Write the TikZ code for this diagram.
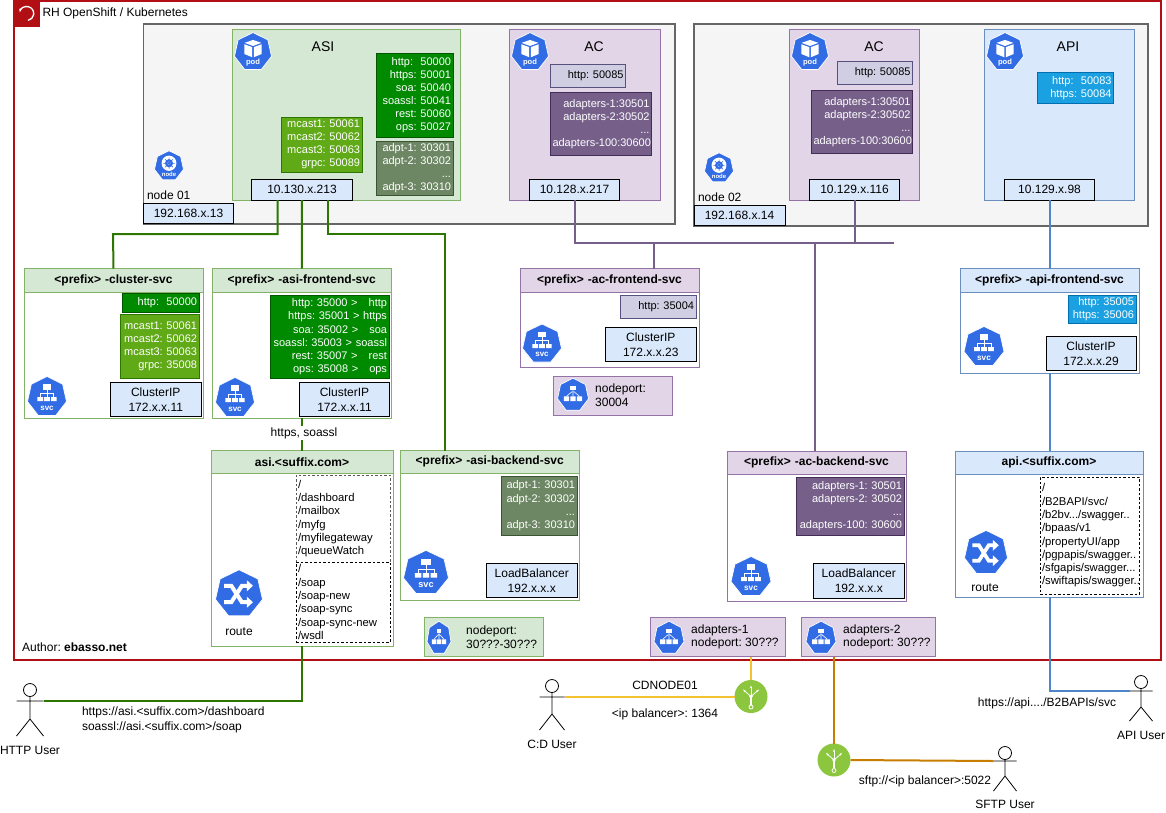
\documentclass[tikz,border=0pt]{standalone}
\usepackage{fontspec}
\setmainfont{Liberation Sans}
\usetikzlibrary{arrows.meta,calc}
\hyphenpenalty=10000 \exhyphenpenalty=10000
\frenchspacing
\definecolor{kblue}{HTML}{326CE5}
\definecolor{redb}{HTML}{B20F14}
\definecolor{gfill}{HTML}{D5E8D4}\definecolor{gstroke}{HTML}{82B366}
\definecolor{pfill}{HTML}{E1D5E7}\definecolor{pstroke}{HTML}{9673A6}
\definecolor{bfill}{HTML}{DAE8FC}\definecolor{bstroke}{HTML}{6C8EBF}
\definecolor{dgreen}{HTML}{008A00}\definecolor{dgreens}{HTML}{005700}
\definecolor{lgreen}{HTML}{60A917}\definecolor{lgreens}{HTML}{2D7600}
\definecolor{ogreen}{HTML}{6D8764}\definecolor{ogreens}{HTML}{3A5431}
\definecolor{vio}{HTML}{76608A}\definecolor{vios}{HTML}{432D57}
\definecolor{lav}{HTML}{D0CEE2}\definecolor{lavs}{HTML}{56517E}
\definecolor{cyanb}{HTML}{1BA1E2}\definecolor{cyans}{HTML}{006EAF}
\definecolor{greenln}{HTML}{2D7600}
\definecolor{apiblue}{HTML}{4F86C8}
\definecolor{yelln}{HTML}{F2C230}
\definecolor{oraln}{HTML}{C77E00}
\definecolor{balg}{HTML}{8CC63F}
\tikzset{
  fsm/.style={font=\fontsize{11}{13.1}\selectfont},
  fmd/.style={font=\fontsize{12}{15}\selectfont},
  rtx/.style={fsm,align=right},
  dgblock/.style={rtx,fill=dgreen,draw=dgreens,text=white},
  lgblock/.style={rtx,fill=lgreen,draw=lgreens,text=white},
  ogblock/.style={rtx,fill=ogreen,draw=ogreens,text=white},
  vblock/.style={rtx,fill=vio,draw=vios,text=white},
  lblock/.style={rtx,fill=lav,draw=lavs,text=black},
  cblock/.style={rtx,fill=cyanb,draw=cyans,text=white},
  ipbox/.style={fmd,align=center,fill=bfill,draw=black},
  pathbox/.style={font=\fontsize{11.3}{13.3}\selectfont,align=left,dash pattern=on 2.5pt off 2pt,draw=black},
  plain/.style={fmd,inner sep=0pt,outer sep=0pt},
  glnk/.style={draw=greenln,line width=2pt},
  plnk/.style={draw=vio,line width=2pt},
  apilnk/.style={draw=apiblue,line width=2pt},
  ylnk/.style={draw=yelln,line width=2pt},
  olnk/.style={draw=oraln,line width=2pt},
  actorln/.style={draw=black,line width=.8pt},
}
% box from corners: [opts]{name}{x1}{y1}{x2}{y2}{text}
\newcommand{\bx}[7][]{%
  \pgfmathsetmacro{\bw}{#5-#3}\pgfmathsetmacro{\bh}{#6-#4}%
  \pgfmathsetmacro{\bcx}{(#3+#5)/2}\pgfmathsetmacro{\bcy}{(#4+#6)/2}%
  \pgfmathsetmacro{\btw}{\bw-4}%
  \node[draw,outer sep=0pt,inner xsep=2pt,inner ysep=0pt,minimum width=\bw pt,minimum height=\bh pt,text width=\btw pt,#1] (#2) at (\bcx,\bcy) {#7};}
% swimlane: {name}{x1}{y1}{x2}{y2}{yhead}{fill}{stroke}{title}
\newcommand{\lane}[9]{%
  \bx[draw=#8,line width=.9pt,fill=white]{#1}{#2}{#3}{#4}{#5}{}%
  \bx[draw=#8,line width=.9pt,fill=#7,align=center,font=\fontsize{12}{14}\selectfont\bfseries]{#1-h}{#2}{#3}{#4}{#6}{#9}}
% glyphs, in unit coordinates
\newcommand{\icopod}{%
  \fill[white] (0,.62)--(-.44,.47)--(0,.31)--(.44,.47)--cycle;
  \fill[white] (-.46,.40)--(-.04,.25)--(-.04,-.27)--(-.46,-.10)--cycle;
  \fill[white] (.46,.40)--(.04,.25)--(.04,-.27)--(.46,-.10)--cycle;
  \node[white,font=\fontsize{\ifs}{\ifs}\selectfont\bfseries,inner sep=0pt] (\iname-t) at (0,-.52) {pod};}
\newcommand{\iconode}{%
  \fill[white] (0,.18) circle [radius=.5];
  \fill[kblue] (0,.18) circle [radius=.27];
  \fill[white] (0,.18) circle [radius=.13];
  \draw[kblue,line width=.5pt] (0,.55)--(0,-.2) (-.38,.18)--(.38,.18) (-.27,.45)--(.27,-.09) (-.27,-.09)--(.27,.45);
  \node[white,font=\fontsize{\ifs}{\ifs}\selectfont\bfseries,inner sep=0pt] (\iname-t) at (0,-.58) {node};}
\newcommand{\icosvc}{%
  \fill[white] (-.2,.61) rectangle (.2,.34);
  \fill[white] (-.48,0) rectangle (-.2,-.2) (-.14,0) rectangle (.14,-.2) (.2,0) rectangle (.48,-.2);
  \draw[white,line width=.7pt] (0,.34)--(0,0) (-.34,0)--(-.34,.17)--(.34,.17)--(.34,0);
  \node[white,font=\fontsize{\ifs}{\ifs}\selectfont\bfseries,inner sep=0pt] (\iname-t) at (0,-.54) {svc};}
\newcommand{\iconp}{%
  \fill[white] (-.2,.55) rectangle (.2,.28);
  \fill[white] (-.58,-.08) rectangle (-.24,-.36) (-.17,-.08) rectangle (.17,-.36) (.24,-.08) rectangle (.58,-.36);
  \draw[white,line width=.6pt] (0,.28)--(0,-.08) (-.06,.2)--(-.41,-.08) (.06,.2)--(.41,-.08);}
\newcommand{\icoroute}{%
  \draw[white,line width=\ilw pt,-{Triangle[length=6pt,width=10.5pt]}] (-.62,.34)--(-.32,.34)--(.12,-.34)--(.58,-.34);
  \draw[white,line width=\ilw pt,-{Triangle[length=6pt,width=10.5pt]}] (-.62,-.34)--(-.32,-.34)--(.12,.34)--(.58,.34);}
% {name}{cx}{cy}{W}{H}{kind}
\newcommand{\kicon}[6]{%
  \pgfmathsetmacro{\ifs}{#4*.205}\pgfmathsetmacro{\ilw}{#4*.085}\pgfmathsetmacro{\ihx}{#4/1.95}\pgfmathsetmacro{\ihy}{#5/1.9}%
  \def\iname{#1}%
  \begin{scope}[shift={(#2,#3)},x=\ihx pt,y=\ihy pt]
    \fill[kblue,draw=white,line width=.7pt] (90:1)--(141.43:1)--(192.86:1)--(244.29:1)--(295.71:1)--(347.14:1)--(38.57:1)--cycle;
    \csname ico#6\endcsname
  \end{scope}}
% {name}{x}{yhead}{armY}{half}{hipY}{footY}
\newcommand{\actor}[7]{%
  \node[circle,draw=black,line width=.8pt,minimum size=13pt,inner sep=0pt,outer sep=0pt] (#1) at (#2,#3) {};
  \coordinate (#1-l) at (#2-#5,#4); \coordinate (#1-r) at (#2+#5,#4);
  \coordinate (#1-h) at (#2,#6); \coordinate (#1-fl) at (#2-#5,#7); \coordinate (#1-fr) at (#2+#5,#7);
  \draw[actorln] (#1.south)--(#1-h) (#1-l)--(#1-r) (#1-fl)--(#1-h)--(#1-fr);}
\newcommand{\balancer}[3]{%
  \node[circle,fill=balg,minimum size=33pt,inner sep=0pt,outer sep=0pt] (#1) at (#2,#3) {};
  \draw[white,line width=.8pt,-{Stealth[length=3pt]}] (#1.center)--++(0,-11);
  \draw[white,line width=.8pt,-{Stealth[length=3pt]}] (#1.center)--++(-8,-7);
  \draw[white,line width=.8pt,-{Stealth[length=3pt]}] (#1.center)--++(8,-7);
  \draw[white,line width=1.2pt] (#1.center)--++(0,8);
  \draw[white,line width=.8pt] ([yshift=-10.5pt]#1.center) circle [radius=2];
  \fill[white] (#1.center) circle [radius=1.8];}
\begin{document}
\begin{tikzpicture}[x=1pt,y=-1pt]
\useasboundingbox (0,0) rectangle (1166,812);
\fill[white] (0,0) rectangle (1166,812);
% outer
\bx[draw=redb,line width=1.8pt,fill=white]{outer}{14}{1}{1161}{660}{}
\bx[draw=redb,fill=redb,line width=.5pt]{corner}{14}{1}{39.5}{26}{}
\draw[white,line width=1.3pt,{Stealth[length=3.5pt]}-] ([shift={(-170:7)}]corner.center) arc[start angle=-170,end angle=80,radius=7];
\node[plain,anchor=west] (title) at (42.5,13) {RH OpenShift / Kubernetes};
\node[anchor=west,inner sep=0pt,font=\fontsize{12}{14}\selectfont] (author) at (22,647) {Author: \textbf{ebasso.net}};
% node boxes
\bx[draw=black!60,fill=black!4,line width=1.8pt]{node1}{143.5}{24}{675}{224}{}
\bx[draw=black!60,fill=black!4,line width=1.8pt]{node2}{694}{24}{1148}{226}{}
% ASI pod
\bx[draw=gstroke,fill=gfill]{asipod}{232.5}{29}{460}{200}{}
\kicon{ic1}{253}{52}{37}{37}{pod}
\node[inner sep=0pt,font=\fontsize{14}{16}\selectfont] (asit) at (323,47) {ASI};
\bx[dgblock]{asia}{376.5}{53}{453}{137}{http:~~50000\\https:~50001\\soa:~50040\\soassl:~50041\\rest:~50060\\ops:~50027}
\bx[ogblock]{asib}{376.5}{141}{453}{195}{adpt-1:~30301\\adpt-2:~30302\\...\\adpt-3:~30310}
\bx[lgblock]{asic}{281.5}{117}{362}{172}{mcast1:~50061\\mcast2:~50062\\mcast3:~50063\\grpc:~50089}
\bx[ipbox]{asiip}{251.5}{179.5}{352.5}{200}{10.130.x.213}
\kicon{ic2}{169}{166}{29}{29}{node}
\node[plain,anchor=west] (n1t) at (147,195) {node 01};
\bx[ipbox]{n1ip}{143.5}{203}{233.5}{223}{192.168.x.13}
% AC pod 1
\bx[draw=pstroke,fill=pfill]{acpod1}{509.5}{29}{660}{200}{}
\kicon{ic3}{530}{52}{37}{37}{pod}
\node[inner sep=0pt,font=\fontsize{14}{16}\selectfont] (ac1t) at (594,47) {AC};
\bx[lblock]{ac1a}{550.5}{64.5}{625.5}{87}{http:~50085}
\bx[vblock]{ac1b}{550.5}{92.5}{651.5}{155.5}{adapters-1:30501\\adapters-2:30502\\...\\adapters-100:30600}
\bx[ipbox]{ac1ip}{529.5}{179.5}{619.5}{200}{10.128.x.217}
% AC pod 2
\bx[draw=pstroke,fill=pfill]{acpod2}{789.5}{29}{919.5}{200}{}
\kicon{ic4}{810}{52}{37}{37}{pod}
\node[inner sep=0pt,font=\fontsize{14}{16}\selectfont] (ac2t) at (874,47) {AC};
\bx[lblock]{ac2a}{837.5}{61.5}{912.5}{84}{http:~50085}
\bx[vblock]{ac2b}{811.5}{90.5}{912.5}{153.5}{adapters-1:30501\\adapters-2:30502\\...\\adapters-100:30600}
\bx[ipbox]{ac2ip}{809.5}{179.5}{899.5}{200}{10.129.x.116}
\kicon{ic5}{719}{168}{29}{29}{node}
\node[plain,anchor=west] (n2t) at (698,197) {node 02};
\bx[ipbox]{n2ip}{694}{205}{785}{225}{192.168.x.14}
% API pod
\bx[draw=bstroke,fill=bfill]{apipod}{984.5}{29}{1134.5}{200}{}
\kicon{ic6}{1005}{52}{37}{37}{pod}
\node[inner sep=0pt,font=\fontsize{14}{16}\selectfont] (apit) at (1068,47) {API};
\bx[cblock]{apia}{1037.5}{72.5}{1113.5}{103}{http:~~50083\\https:~50084}
\bx[ipbox]{apiip}{1004.5}{179.5}{1094.5}{200}{10.129.x.98}
% cluster svc
\lane{clu}{24}{268.5}{203}{418}{292}{gfill}{gstroke}{<prefix> -cluster-svc}
\bx[dgblock]{clua}{122}{293}{199}{312}{http:~~50000}
\bx[lgblock]{club}{120.5}{314.5}{199}{378}{mcast1:~50061\\mcast2:~50062\\mcast3:~50063\\grpc:~35008}
\bx[ipbox]{cluip}{110.5}{382.5}{201}{416}{ClusterIP\\172.x.x.11}
\kicon{ic7}{47}{397}{39}{39}{svc}
% asi frontend
\lane{afe}{212.5}{268.5}{391}{418}{292}{gfill}{gstroke}{<prefix> -asi-frontend-svc}
\bx[dgblock]{afea}{270.5}{295.5}{389}{378}{http:~35000~>~~~http\\https:~35001~>~https\\soa:~35002~>~~~soa\\soassl:~35003~>~soassl\\rest:~35007~>~~~rest\\ops:~35008~>~~~ops}
\bx[ipbox]{afeip}{299.5}{382.5}{389.5}{416}{ClusterIP\\172.x.x.11}
\kicon{ic8}{235}{398}{39}{39}{svc}
% asi route
\lane{asr}{211}{450.5}{393}{646}{473}{gfill}{gstroke}{asi.<suffix.com>}
\bx[pathbox,draw=black!65]{asp1}{296}{475}{390}{562}{/\\/dashboard\\/mailbox\\/myfg\\/myfilegateway\\/queueWatch}
\bx[pathbox]{asp2}{296}{562}{390}{642}{/\\/soap\\/soap-new\\/soap-sync\\/soap-sync-new\\/wsdl}
\kicon{ic9}{239}{594}{47}{46}{route}
\node[plain] (asrt) at (239,632) {route};
% asi backend
\lane{abe}{400.5}{450.5}{579}{600}{473}{gfill}{gstroke}{<prefix> -asi-backend-svc}
\bx[ogblock]{abea}{501.5}{476.5}{577}{535}{adpt-1:~30301\\adpt-2:~30302\\...\\adpt-3:~30310}
\bx[ipbox]{abeip}{486.5}{563.5}{577}{597}{LoadBalancer\\192.x.x.x}
\kicon{ic10}{426}{573}{45}{43}{svc}
\bx[draw=gstroke,fill=gfill]{anp}{424.5}{617.5}{543}{656}{}
\kicon{ic11}{439}{638}{24}{32}{np}
\node[fmd,anchor=west,align=left,inner sep=0pt] (anpt) at (466,637) {nodeport:\\[-1.5pt]30???-30???};
% ac frontend
\lane{cfe}{520}{268.5}{699}{367}{292}{pfill}{pstroke}{<prefix> -ac-frontend-svc}
\bx[lblock]{cfea}{620.5}{295.5}{696}{318.5}{http:~35004}
\bx[ipbox]{cfeip}{605.5}{327.5}{696}{361.5}{ClusterIP\\172.x.x.23}
\kicon{ic12}{542}{344}{39}{38}{svc}
\bx[draw=pstroke,fill=pfill]{cnp}{553.5}{376}{672}{415}{}
\kicon{ic13}{573}{395}{31}{32}{np}
\node[fmd,anchor=west,align=left,inner sep=0pt] (cnpt) at (595,395) {nodeport:\\[-1.5pt]30004};
% ac backend
\lane{cbe}{727}{451}{906}{601}{474}{pfill}{pstroke}{<prefix> -ac-backend-svc}
\bx[vblock]{cbea}{796.5}{477.5}{904}{535}{adapters-1:~30501\\adapters-2:~30502\\...\\adapters-100:~30600}
\bx[ipbox]{cbeip}{813.5}{563.5}{904}{598}{LoadBalancer\\192.x.x.x}
\kicon{ic14}{751}{577}{40}{39}{svc}
\bx[draw=pstroke,fill=pfill]{cnp1}{650}{617.5}{785}{656.5}{}
\kicon{ic15}{669}{638}{30}{32}{np}
\node[fmd,anchor=west,align=left,inner sep=0pt] (cnp1t) at (691,637) {adapters-1\\[-1.5pt]nodeport: 30???};
\bx[draw=pstroke,fill=pfill]{cnp2}{801}{617.5}{935}{656.5}{}
\kicon{ic16}{821}{638}{30}{32}{np}
\node[fmd,anchor=west,align=left,inner sep=0pt] (cnp2t) at (843,637) {adapters-2\\[-1.5pt]nodeport: 30???};
% api frontend
\lane{pfe}{960}{268.5}{1139}{373}{292}{bfill}{bstroke}{<prefix> -api-frontend-svc}
\bx[cblock]{pfea}{1068}{295.5}{1136}{323.5}{http:~35005\\https:~35006}
\bx[ipbox]{pfeip}{1046}{336.5}{1136}{370.5}{ClusterIP\\172.x.x.29}
\kicon{ic17}{984}{347}{40}{39}{svc}
% api route
\lane{pro}{955}{451}{1143}{597}{474}{bfill}{bstroke}{api.<suffix.com>}
\bx[pathbox]{prp}{1040}{477}{1139}{594}{/\\/B2BAPI/svc/\\/b2bv.../swagger..\\/bpaas/v1\\/propertyUI/app\\/pgpapis/swagger..\\/sfgapis/swagger...\\/swiftapis/swagger..}
\kicon{ic18}{986}{553}{43}{43}{route}
\node[plain] (prot) at (985,588) {route};
% actors and balancers
\actor{huser}{30}{690}{701}{13.5}{719}{736}
\node[plain] (hut) at (30,750) {HTTP User};
\actor{cuser}{552}{686}{697}{12.5}{714}{730}
\node[plain] (cut) at (552,744) {C:D User};
\actor{suser}{1005}{753}{761}{11.5}{776}{791}
\node[plain] (sut) at (1005,804) {SFTP User};
\actor{puser}{1141}{682}{691}{11.5}{707}{721}
\node[plain] (put) at (1141,735) {API User};
% connectors
\coordinate (gl) at (113,234);
\coordinate (gr) at (445,234);
\draw[glnk] ([xshift=-24.5pt]asiip.south) |- (gl) -- (clu.north);
\draw[glnk] (asiip.south) -- (afe.north);
\draw[glnk] ([xshift=25.5pt]asiip.south) |- (gr) -- (gr |- abe.north);
\draw[glnk] (afe.south) -- (afe.south |- asr.north);
\draw[glnk] (asr.south) |- (huser-r);
\coordinate (tl) at (575,243);
\coordinate (tr) at (894,243);
\draw[plnk] (ac1ip.south) -- (ac1ip.south |- tl) -- (tr);
\draw[plnk] (ac2ip.south) -- (ac2ip.south |- tr);
\coordinate (tc) at (654,243);
\draw[plnk] (tc) -- (tc |- cfe.north);
\coordinate (td) at (815,243);
\draw[plnk] (td) -- (td |- cbe.north);
\draw[apilnk] (apiip.south) -- (apiip.south |- pfe.north);
\draw[apilnk] (pfe.south) -- (pfe.south |- pro.north);
\draw[apilnk] (pfe.south |- pro.south) |- (puser-l);
\balancer{bal1}{751}{696.5}
\balancer{bal2}{834}{760}
\draw[ylnk] (cuser-r) -- (bal1.west |- cuser-r);
\draw[ylnk] ([xshift=33.5pt]cnp1.south) -- (bal1.north);
\draw[olnk] ([xshift=-34pt]cnp2.south) -- (bal2.north);
\draw[olnk] (bal2.east) -- (suser-l);
% connector labels
\node[plain,fill=white,inner xsep=1pt,inner ysep=1pt] (lb1) at (304,433) {https, soassl};
\node[plain,anchor=north west,align=left] (lb2) at (82,707) {https://asi.<suffix.com>/dashboard\\soassl://asi.<suffix.com>/soap};
\node[plain] (lb3) at (665,685) {CDNODE01};
\node[plain] (lb4) at (665,714) {<ip balancer>: 1364};
\node[plain] (lb5) at (925,781) {sftp://<ip balancer>:5022};
\node[plain] (lb6) at (1047,703) {https://api..../B2BAPIs/svc};
\end{tikzpicture}
\end{document}
